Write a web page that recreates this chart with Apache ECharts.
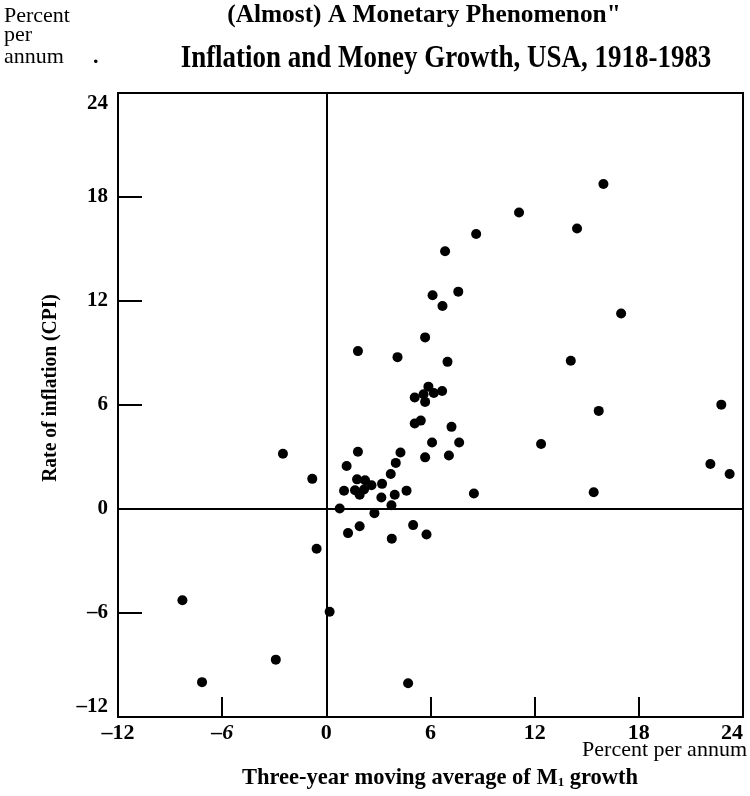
<!DOCTYPE html>
<html>
<head>
<meta charset="utf-8">
<script src="https://cdn.jsdelivr.net/npm/echarts@6/dist/echarts.min.js"></script>
<style>html,body{margin:0;padding:0;background:#fff;}#c{width:750px;height:796px;}</style>
</head>
<body>
<div id="c"></div>
<script>
// Three-year moving average of M1 growth (x) vs rate of inflation CPI (y), USA 1918-1983
const moneyGrowth = [6.12, 7.6, 6.69, 5.69, 1.82, 4.1, 6.98, 5.88, 5.09, 5.6, 6.19, 6.67, 5.69, 5.09, 5.44, 7.21, 6.09, 7.65, 12.37, 1.82, 4.27, 5.69, 7.06, 1.17, 4.0, 3.71, -0.81, 1.77, 2.23, 2.6, 3.21, 1.65, 1.92, 2.17, 1.02, 3.17, 3.94, 4.62, 8.5, 3.75, 0.77, 2.77, 1.92, 5.0, -2.5, 1.25, 3.77, 5.77, -0.56, 0.19, -8.29, -7.16, -2.91, 4.71, 15.96, 11.1, 14.44, 8.63, 6.84, 16.98, 14.08, 15.69, 22.75, 22.12, 23.23, 15.4];
const inflation   = [12.33, 12.54, 11.71, 9.9, 9.11, 8.76, 8.49, 7.06, 6.43, 6.62, 6.69, 6.81, 6.18, 4.93, 5.1, 4.74, 3.84, 3.84, 3.75, 3.3, 3.26, 2.98, 3.09, 2.48, 2.66, 2.02, 1.74, 1.71, 1.66, 1.37, 1.45, 1.08, 0.82, 1.12, 1.05, 0.66, 0.82, 1.06, 0.89, 0.22, 0.03, -0.24, -1.0, -0.93, 3.19, -1.39, -1.71, -1.47, -2.29, -5.93, -5.26, -9.99, -8.69, -10.05, 18.75, 17.11, 16.18, 15.87, 14.87, 11.28, 8.55, 5.66, 6.02, 2.6, 2.02, 0.97];
const xTicks = [-12, -6, 0, 6, 12, 18, 24];
const yTicks = [-12, -6, 0, 6, 12, 18, 24];

const points = moneyGrowth.map((x, i) => [x, inflation[i]]);
const SERIF = '"Liberation Serif", "DejaVu Serif", serif';
const fmt = v => (v < 0 ? '\u2013' + Math.abs(v) : String(v));

const chart = echarts.init(document.getElementById('c'), null, {renderer: 'canvas'});
chart.setOption({
  animation: false,
  backgroundColor: '#fff',
  grid: {left: 118, right: 7, top: 93, bottom: 79, show: true, borderColor: '#000', borderWidth: 2, backgroundColor: 'transparent'},
  xAxis: {
    type: 'value', min: xTicks[0], max: xTicks[xTicks.length - 1], interval: 6,
    splitLine: {show: false},
    axisLine: {show: false, onZero: false},
    axisTick: {show: true, inside: true, length: 20, lineStyle: {color: '#000', width: 2}},
    axisLabel: {
      margin: 5, color: '#000', fontFamily: SERIF, fontWeight: 'bold', fontSize: 22,
      alignMaxLabel: 'right',
      formatter: v => (v === -6 ? '{i|' + fmt(v) + '}' : fmt(v)),
      rich: {i: {fontStyle: 'italic', fontFamily: SERIF, fontWeight: 'bold', fontSize: 22, color: '#000'}}
    }
  },
  yAxis: {
    type: 'value', min: yTicks[0], max: yTicks[yTicks.length - 1], interval: 6,
    splitLine: {show: false},
    axisLine: {show: false, onZero: false},
    axisTick: {show: true, inside: true, length: 24, lineStyle: {color: '#000', width: 2}},
    axisLabel: {
      margin: 10, color: '#000', fontFamily: SERIF, fontWeight: 'bold', fontSize: 21,
      verticalAlignMaxLabel: 'top', verticalAlignMinLabel: 'bottom',
      formatter: fmt
    }
  },
  series: [{
    type: 'scatter', data: points, symbolSize: 10,
    itemStyle: {color: '#000', opacity: 1},
    markLine: {
      silent: true, symbol: 'none', label: {show: false},
      lineStyle: {color: '#000', width: 2, type: 'solid', opacity: 1},
      data: [{xAxis: 0}, {yAxis: 0}]
    },
    z: 3
  }],
  graphic: [
    {type: 'text', x: 4, y: 16, style: {text: 'Percent', font: '22px ' + SERIF, fill: '#000', verticalAlign: 'middle'}},
    {type: 'text', x: 4, y: 35, style: {text: 'per', font: '22px ' + SERIF, fill: '#000', verticalAlign: 'middle'}},
    {type: 'text', x: 4, y: 57, style: {text: 'annum', font: '22px ' + SERIF, fill: '#000', verticalAlign: 'middle'}},
    {type: 'text', x: 93, y: 57, style: {text: '.', font: 'bold 22px ' + SERIF, fill: '#000', verticalAlign: 'middle'}},
    {type: 'text', x: 424, y: 15, scaleX: 0.975, style: {text: '(Almost) A Monetary Phenomenon"', font: 'bold 26px ' + SERIF, fill: '#000', align: 'center', verticalAlign: 'middle'}},
    {type: 'text', x: 446, y: 59, scaleX: 0.87, style: {text: 'Inflation and Money Growth, USA, 1918-1983', font: 'bold 31px ' + SERIF, fill: '#000', align: 'center', verticalAlign: 'middle'}},
    {type: 'text', x: 50, y: 388, rotation: Math.PI / 2, scaleX: 0.89, style: {text: 'Rate of inflation (CPI)', font: 'bold 22px ' + SERIF, fill: '#000', align: 'center', verticalAlign: 'middle'}},
    {type: 'text', x: 747, y: 750, style: {text: 'Percent per annum', font: '22px ' + SERIF, fill: '#000', align: 'right', verticalAlign: 'middle'}},
    {type: 'text', x: 440, y: 778, style: {
      text: '{a|Three-year moving average of M}{s|1}{a| growth}',
      rich: {
        a: {font: 'bold 22.5px ' + SERIF, fill: '#000'},
        s: {font: 'bold 13px ' + SERIF, fill: '#000', padding: [10, 0, 0, 0]}
      },
      align: 'center', verticalAlign: 'middle'}}
  ]
});
</script>
</body>
</html>
